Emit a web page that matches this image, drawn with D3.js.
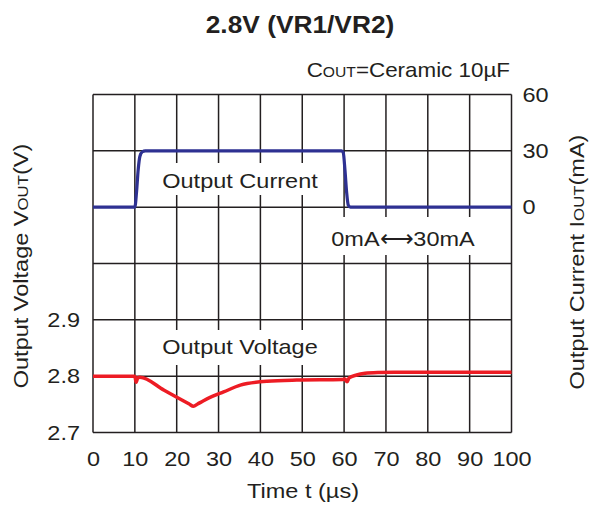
<!DOCTYPE html>
<html><head><meta charset="utf-8">
<script src="https://cdn.jsdelivr.net/npm/d3@7"></script>
<style>body{margin:0;background:#fff}svg{font-family:"Liberation Sans",Arial,sans-serif}</style>
</head><body><div id="chart"></div>
<script>
const xTicks = [0,10,20,30,40,50,60,70,80,90,100];
const vTicks = [2.7,2.8,2.9];
const iTicks = [0,30,60];
const currentT = [0,10,10.4,10.8,11.2,11.8,12.5,59.4,59.8,60.2,60.6,61.0,61.5,100];
const currentI = [0,0,8,20,27,29.5,30,30,29,20,8,1,0,0];
const voltT = [0,10,10.3,10.7,11.2,17,23,24,25,26.3,28.5,31.2,35.2,41.6,48.7,59.6,60.2,60.7,61.2,63,65,68,72,100];
const voltV = [2.8,2.8,2.789,2.797,2.798,2.775,2.7505,2.7465,2.7505,2.756,2.764,2.772,2.784,2.791,2.793,2.794,2.795,2.790,2.797,2.802,2.805,2.8065,2.807,2.807];

const W=590,H=505;
const L=93,T=94.5,R=511.5,B=432.5;
const ink="#231f20";
const K=1.12; // horizontal stretch of reference lettering
const svg=d3.select("#chart").append("svg").attr("width",W).attr("height",H);
const x=d3.scaleLinear().domain([0,100]).range([L,R]);
const yV=d3.scaleLinear().domain([2.7,3.3]).range([B,T]);
const yI=d3.scaleLinear().domain([-120,60]).range([B,T]);

// grid
const g=svg.append("g");
g.selectAll("line.v").data(xTicks).join("line")
 .attr("x1",d=>x(d)).attr("x2",d=>x(d)).attr("y1",T).attr("y2",B)
 .attr("stroke",ink).attr("stroke-width",1.5);
g.selectAll("line.h").data(d3.range(0,7)).join("line")
 .attr("x1",L).attr("x2",R).attr("y1",d=>T+(B-T)*d/6).attr("y2",d=>T+(B-T)*d/6)
 .attr("stroke",ink).attr("stroke-width",1.5);

// label boxes masking grid
function box(x0,y0,x1,y1){svg.append("rect").attr("x",x0).attr("y",y0).attr("width",x1-x0).attr("height",y1-y0).attr("fill","#fff");}
box(150,163,330,195);
box(150,330,330,365);
box(318,217,490,255);

// axes
const fs=21;
function styleTicks(sel,dx){
  sel.selectAll("text").attr("font-size",fs).attr("fill",ink)
   .attr("font-family","Liberation Sans, Arial, sans-serif")
   .each(function(){
     const t=d3.select(this);
     const xv=+t.attr("x")||0;
     t.attr("x",xv/K).attr("transform",`scale(${K},1)`);
   });
}
svg.append("g").attr("transform",`translate(0,${B})`)
 .call(d3.axisBottom(x).tickValues(xTicks).tickSize(0).tickPadding(19).tickFormat(d3.format("d")))
 .call(a=>a.select(".domain").remove())
 .call(a=>styleTicks(a));
svg.append("g").attr("transform",`translate(${L},0)`)
 .call(d3.axisLeft(yV).tickValues(vTicks).tickSize(0).tickPadding(13).tickFormat(d3.format(".1f")))
 .call(a=>a.select(".domain").remove())
 .call(a=>styleTicks(a));
svg.append("g").attr("transform",`translate(${R},0)`)
 .call(d3.axisRight(yI).tickValues(iTicks).tickSize(0).tickPadding(11).tickFormat(d3.format("d")))
 .call(a=>a.select(".domain").remove())
 .call(a=>styleTicks(a));

// lines
const lineI=d3.line().x((d,i)=>x(currentT[i])).y((d,i)=>yI(currentI[i])).curve(d3.curveMonotoneX);
svg.append("path").datum(currentI).attr("d",lineI).attr("fill","none").attr("stroke","#2e3192").attr("stroke-width",3.2);
const lineV=d3.line().x((d,i)=>x(voltT[i])).y((d,i)=>yV(voltV[i])).curve(d3.curveMonotoneX);
svg.append("path").datum(voltV).attr("d",lineV).attr("fill","none").attr("stroke","#ed1c24").attr("stroke-width",3.5);

// texts
function t(xp,yp,anchor,size,parts,weight,rot){
  const gg=svg.append("g").attr("transform",`translate(${xp},${yp})${rot?` rotate(${rot})`:""} scale(${K},1)`);
  const el=gg.append("text").attr("text-anchor",anchor).attr("font-size",size).attr("fill",ink);
  if(weight) el.attr("font-weight",weight);
  parts.forEach(p=>{const s=el.append("tspan").text(p[0]); if(p[1]) s.attr("font-size",p[1]);});
  return el;
}
t(300,33,"middle",23.5,[["2.8V (VR1/VR2)"]],"bold");
t(510,77,"end",20,[["C"],["OUT",14],["=Ceramic 10µF"]]);
t(240,188,"middle",21,[["Output Current"]]);
t(240,354,"middle",21,[["Output Voltage"]]);
t(403,246,"middle",21,[["0mA"],["\u27f7"],["30mA"]]);
t(303,498,"middle",21,[["Time t (µs)"]]);
t(28,266,"middle",21,[["Output Voltage V"],["OUT",15],["(V)"]],null,-90);
t(584,262,"middle",21,[["Output Current I"],["OUT",15],["(mA)"]],null,-90);
</script></body></html>
